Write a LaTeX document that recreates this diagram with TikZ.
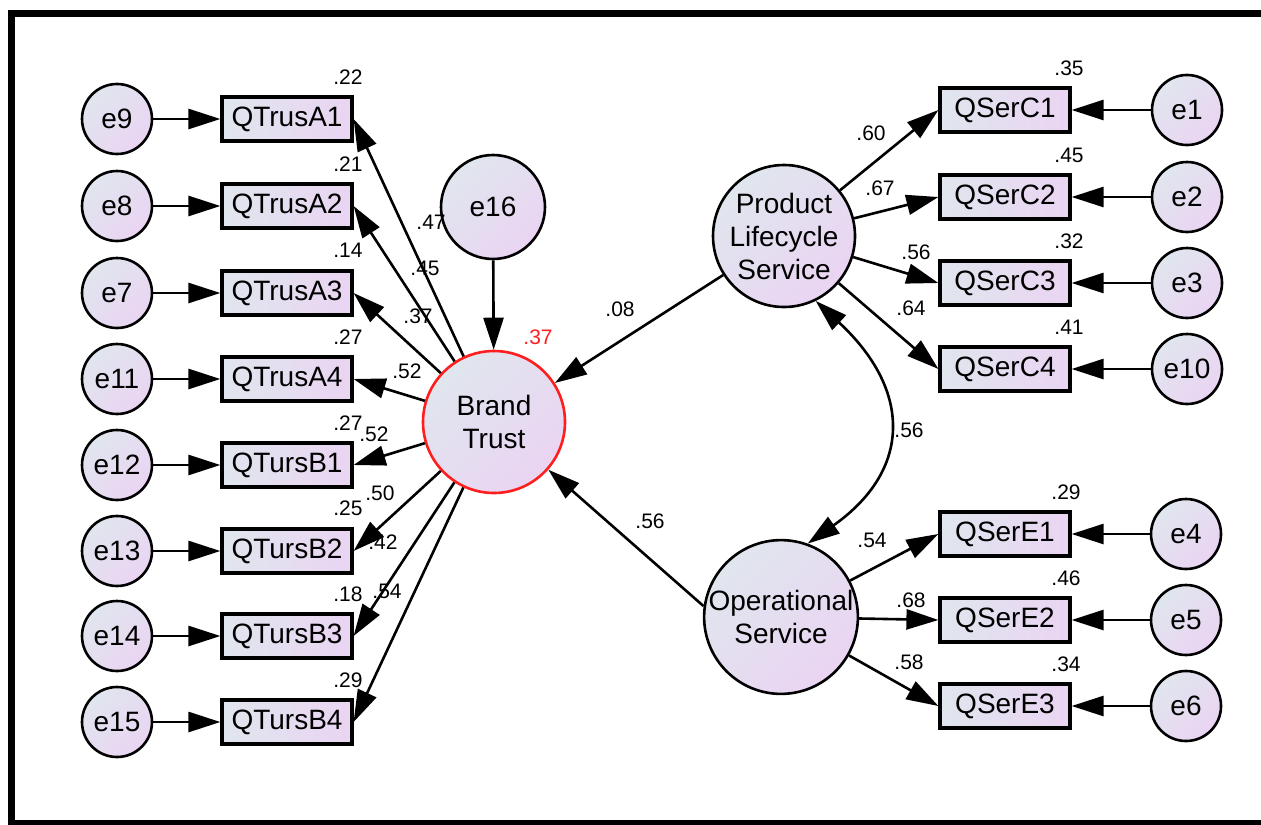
\documentclass[tikz,border=0pt]{standalone}
\usepackage{fontspec}
\setmainfont{Liberation Sans}
\usepackage{xcolor}
\usepackage{tikz}
\usetikzlibrary{shapes,arrows.meta}

\definecolor{shadeA}{HTML}{E0E6EE}
\definecolor{shadeB}{HTML}{EAD4F2}
\definecolor{amosred}{HTML}{FF1E1E}

\tikzset{
  var/.style={draw, line width=1.6pt, minimum width=65pt, minimum height=22pt,
    inner sep=0pt, left color=shadeA, right color=shadeB,
    font=\fontsize{14}{16}\selectfont},
  err/.style={circle, draw, line width=1.3pt, minimum size=35pt, inner sep=0pt,
    left color=shadeA, right color=shadeB, shading angle=45,
    font=\fontsize{14}{16}\selectfont},
  lat/.style={circle, draw, line width=1.3pt, minimum size=71pt, inner sep=0pt,
    left color=shadeA, right color=shadeB, shading angle=45, align=center,
    font=\fontsize{14}{16.5}\selectfont},
  est/.style={inner sep=0pt, font=\fontsize{10.5}{12}\selectfont},
  reg/.style={-{Triangle[length=16pt,width=10pt]}, line width=1.3pt},
  cov/.style={{Triangle[length=16pt,width=10pt]}-{Triangle[length=16pt,width=10pt]}, line width=1.3pt},
}

\begin{document}
\begin{tikzpicture}[x=0.5pt,y=-0.5pt]
\useasboundingbox (0,0) rectangle (1261,824);
\draw[line width=3.5pt] (1270,823) -- (11,823) -- (11,13.5) -- (1270,13.5);
%
\node[var] (qa1) at (287,119) {QTrusA1};
\node[var] (qa2) at (287,206) {QTrusA2};
\node[var] (qa3) at (287,293) {QTrusA3};
\node[var] (qa4) at (287,379) {QTrusA4};
\node[var] (qb1) at (287,465) {QTursB1};
\node[var] (qb2) at (287,551) {QTursB2};
\node[var] (qb3) at (287,636) {QTursB3};
\node[var] (qb4) at (287,722) {QTursB4};
%
\node[err] (e9) at (117,119) {e9};
\node[err] (e8) at (117,206) {e8};
\node[err] (e7) at (117,293) {e7};
\node[err] (e11) at (117,379) {e11};
\node[err] (e12) at (117,465) {e12};
\node[err] (e13) at (117,551) {e13};
\node[err] (e14) at (117,636) {e14};
\node[err] (e15) at (117,722) {e15};
%
\node[lat, draw=amosred] (bt) at (494,422) {Brand\\Trust};
\node[err, minimum size=52pt] (e16) at (493,207) {e16};
\node[lat] (pls) at (784,236) {Product\\Lifecycle\\Service};
\node[lat] (os) at (781,617) {Operational\\Service};
%
\node[var] (qc1) at (1005,110) {QSerC1};
\node[var] (qc2) at (1005,197) {QSerC2};
\node[var] (qc3) at (1005,283) {QSerC3};
\node[var] (qc4) at (1005,369) {QSerC4};
\node[var] (qe1) at (1005,534) {QSerE1};
\node[var] (qe2) at (1005,620) {QSerE2};
\node[var] (qe3) at (1005,706) {QSerE3};
%
\node[err] (e1) at (1187,110) {e1};
\node[err] (e2) at (1187,197) {e2};
\node[err] (e3) at (1187,283) {e3};
\node[err] (e10) at (1187,369) {e10};
\node[err] (e4) at (1186,534) {e4};
\node[err] (e5) at (1186,620) {e5};
\node[err] (e6) at (1186,706) {e6};
%
\draw[reg] (e9) -- (qa1);
\draw[reg] (e8) -- (qa2);
\draw[reg] (e7) -- (qa3);
\draw[reg] (e11) -- (qa4);
\draw[reg] (e12) -- (qb1);
\draw[reg] (e13) -- (qb2);
\draw[reg] (e14) -- (qb3);
\draw[reg] (e15) -- (qb4);
%
\draw[reg] (bt) -- (qa1.east);
\draw[reg] (bt) -- (qa2.east);
\draw[reg] (bt) -- (qa3.east);
\draw[reg] (bt) -- (qa4.east);
\draw[reg] (bt) -- (qb1.east);
\draw[reg] (bt) -- (qb2.east);
\draw[reg] (bt) -- (qb3.east);
\draw[reg] (bt) -- (qb4.east);
%
\draw[reg] (e16) -- (bt);
\draw[reg] (pls) -- (bt);
\draw[reg] (os.172) -- (bt);
\draw[cov] (pls.-64) .. controls (912,390) and (912,470) .. (os.70);
%
\draw[reg] (pls) -- (qc1.west);
\draw[reg] (pls) -- (qc2.west);
\draw[reg] (pls) -- (qc3.west);
\draw[reg] (pls) -- (qc4.west);
\draw[reg] (os) -- (qe1.west);
\draw[reg] (os) -- (qe2.west);
\draw[reg] (os) -- (qe3.west);
%
\draw[reg] (e1) -- (qc1);
\draw[reg] (e2) -- (qc2);
\draw[reg] (e3) -- (qc3);
\draw[reg] (e10) -- (qc4);
\draw[reg] (e4) -- (qe1);
\draw[reg] (e5) -- (qe2);
\draw[reg] (e6) -- (qe3);
%
\node[est] (ra1) at (348,77) {.22};
\node[est] (ra2) at (348,164) {.21};
\node[est] (ra3) at (348,250) {.14};
\node[est] (ra4) at (348,337) {.27};
\node[est] (rb1) at (348,423) {.27};
\node[est] (rb2) at (348,508) {.25};
\node[est] (rb3) at (348,594) {.18};
\node[est] (rb4) at (348,680) {.29};
%
\node[est] (wa1) at (431,222) {.47};
\node[est] (wa2) at (425,268) {.45};
\node[est] (wa3) at (418,316) {.37};
\node[est] (wa4) at (407,371) {.52};
\node[est] (wb1) at (374,434) {.52};
\node[est] (wb2) at (380,493) {.50};
\node[est] (wb3) at (383,542) {.42};
\node[est] (wb4) at (387,591) {.54};
%
\node[est, text=amosred] (rbt) at (538,337) {.37};
\node[est] (wpls) at (620,309) {.08};
\node[est] (wos) at (650,521) {.56};
\node[est] (cpo) at (909,430) {.56};
%
\node[est] (wc1) at (871,133) {.60};
\node[est] (wc2) at (880,188) {.67};
\node[est] (wc3) at (916,252) {.56};
\node[est] (wc4) at (911,308) {.64};
\node[est] (we1) at (872,540) {.54};
\node[est] (we2) at (911,600) {.68};
\node[est] (we3) at (909,662) {.58};
%
\node[est] (rc1) at (1069,68) {.35};
\node[est] (rc2) at (1069,155) {.45};
\node[est] (rc3) at (1069,241) {.32};
\node[est] (rc4) at (1069,327) {.41};
\node[est] (re1) at (1066,492) {.29};
\node[est] (re2) at (1066,578) {.46};
\node[est] (re3) at (1066,664) {.34};
\end{tikzpicture}
\end{document}
